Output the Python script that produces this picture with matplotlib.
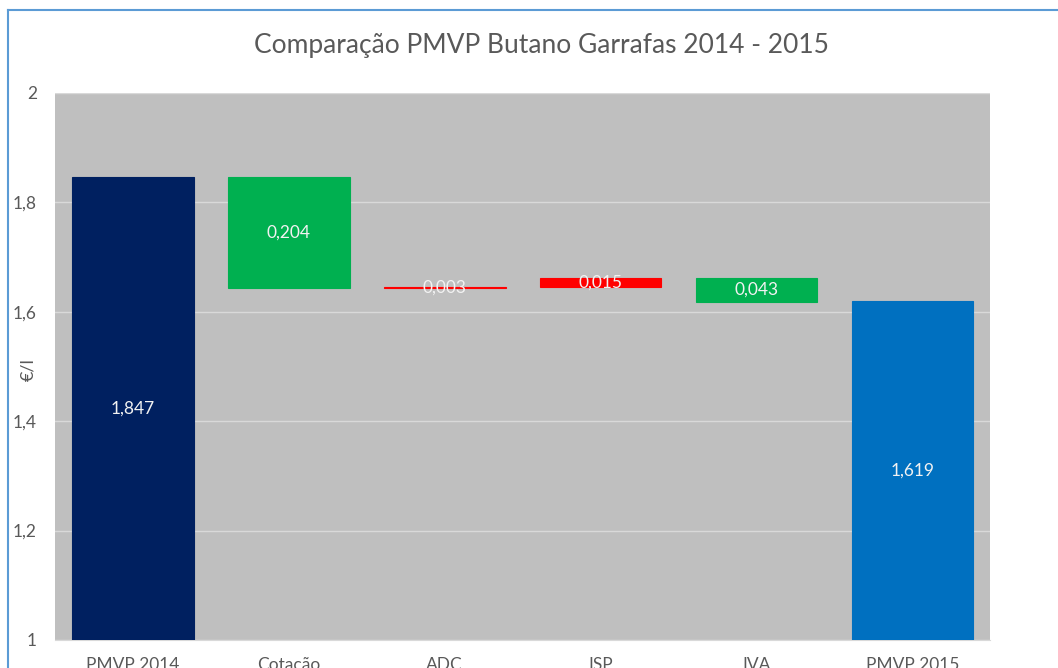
import matplotlib.pyplot as plt
from matplotlib.lines import Line2D

categorias = ["PMVP 2014", "Cotação", "ADC", "ISP", "IVA", "PMVP 2015"]
pmvp_2014 = 1.847
variacoes = [-0.204, 0.003, 0.015, -0.043]   # negativo = descida (verde), positivo = subida (vermelho)
pmvp_2015 = 1.619
rotulos = ["1,847", "0,204", "0,003", "0,015", "0,043", "1,619"]

plt.rcParams['font.family'] = ['Lato', 'DejaVu Sans']

fig = plt.figure(figsize=(10.58, 6.68), dpi=100)
ax = fig.add_axes([0.052, 0.042, 0.884, 0.819])
ax.set_facecolor('#BFBFBF')

# bases e alturas da cascata
bases, alturas, cores = [1], [pmvp_2014 - 1], ['#002060']
nivel = pmvp_2014
for v in variacoes:
    novo = nivel + v
    bases.append(min(nivel, novo))
    alturas.append(abs(v))
    cores.append('#FF0000' if v > 0 else '#00B050')
    nivel = novo
bases.append(1)
alturas.append(pmvp_2015 - 1)
cores.append('#0070C0')

x = range(len(categorias))
ax.bar(x, alturas, bottom=bases, width=0.78, color=cores, edgecolor=cores,
       linewidth=0.8, zorder=3)

for i in x:
    ax.text(i, bases[i] + alturas[i] / 2, rotulos[i], ha='center', va='center',
            color='#F2F2F2', fontsize=12.5, zorder=4)

ax.set_ylim(1, 2)
ax.set_xlim(-0.5, 5.5)
ax.set_yticks([1, 1.2, 1.4, 1.6, 1.8, 2])
ax.set_yticklabels(["1", "1,2", "1,4", "1,6", "1,8", "2"])
ax.set_xticks(list(x))
ax.set_xticklabels(categorias)
ax.tick_params(axis='both', length=0, labelsize=12.5, labelcolor='#595959')
ax.tick_params(axis='y', pad=13)
ax.tick_params(axis='x', pad=12)
ax.grid(axis='y', color='#D9D9D9', linewidth=1, zorder=1)
for s in ['top', 'right', 'left']:
    ax.spines[s].set_visible(False)
ax.spines['bottom'].set_color('#D9D9D9')

fig.text(28 / 1058, 1 - 370 / 668, "€/l", rotation=90, ha='center', va='center',
         fontsize=13, color='#595959')
fig.text(0.512, 0.932, "Comparação PMVP Butano Garrafas 2014 - 2015",
         ha='center', va='center', fontsize=19, color='#595959')

# moldura do gráfico
fig.add_artist(Line2D([8 / 1058, 8 / 1058], [0, 658 / 668], transform=fig.transFigure,
                      color='#5B9BD5', linewidth=1.5))
fig.add_artist(Line2D([8 / 1058, 1], [658 / 668, 658 / 668], transform=fig.transFigure,
                      color='#5B9BD5', linewidth=1.5))

fig.savefig("out.png", dpi=100)
